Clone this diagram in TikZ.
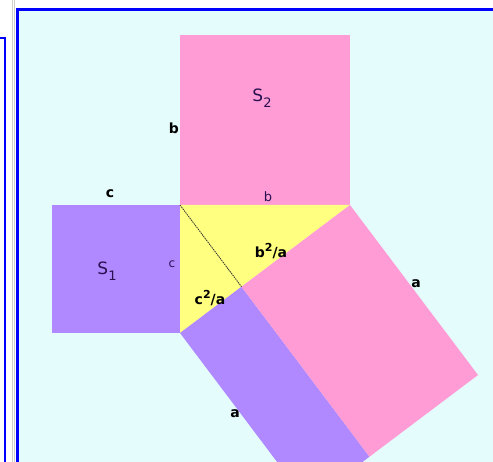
\documentclass[tikz,border=0pt]{standalone}
\usepackage{fontspec}
\setmainfont{DejaVu Sans}
\definecolor{bgcyan}{HTML}{E4FCFC}
\definecolor{sqpink}{HTML}{FF9CD6}
\definecolor{sqpurple}{HTML}{B088FF}
\definecolor{triyellow}{HTML}{FFFF80}
\definecolor{framegrey}{HTML}{D4D0C8}
\definecolor{txtpurple}{HTML}{2A1050}
\newcommand{\mysup}[1]{\raisebox{0.45em}{\fontsize{11}{11}\selectfont #1}}
\newcommand{\mysub}[1]{\raisebox{-0.35em}{\fontsize{13}{13}\selectfont #1}}
\tikzset{
  lbl/.style={font=\bfseries\fontsize{14}{14}\selectfont, text=black, inner sep=0pt},
  lblthin/.style={font=\fontsize{13}{13}\selectfont, text=txtpurple, inner sep=0pt},
  lblsmall/.style={font=\fontsize{12}{12}\selectfont, text=txtpurple, inner sep=0pt},
  areaname/.style={font=\fontsize{17}{17}\selectfont, text=txtpurple, inner sep=0pt}
}
\begin{document}
\begin{tikzpicture}[x=1pt,y=-1pt]
\useasboundingbox (0,0) rectangle (493,462);
% left window strip
\fill[white] (0,0) rectangle (493,462);
\draw[blue, line width=2pt] (0,38) -- (5,38) -- (5,462);
\draw[framegrey, line width=1pt] (12.5,0) -- (12.5,462);
\draw[framegrey, line width=1pt] (14.5,0) -- (14.5,462);
% panel
\fill[bgcyan] (17,8) rectangle (493,462);
\draw[blue, line width=3pt] (17.5,462) -- (17.5,9.5) -- (493,9.5);
% triangle vertices
\coordinate (A) at (180,205);
\coordinate (B) at (350,205);
\coordinate (C) at (180,333);
\coordinate (H) at (241.5,286.7);
\coordinate (Bp) at (478,375);
\coordinate (Cp) at (308,503);
\coordinate (Hp) at (369.5,456.7);
% squares on legs
\fill[sqpink] (180,35) rectangle (350,205);
\fill[sqpurple] (52,205) rectangle (180,333);
% triangle
\fill[triyellow] (A) -- (B) -- (C) -- cycle;
% square on hypotenuse, split by the altitude
\begin{scope}
\clip (17,8) rectangle (493,462);
\fill[sqpurple] (C) -- (H) -- (Hp) -- (Cp) -- cycle;
\fill[sqpink] (H) -- (B) -- (Bp) -- (Hp) -- cycle;
\end{scope}
% altitude
\draw[black!80, line width=0.8pt, dash pattern=on 1.5pt off 0.8pt] (A) -- (H);
% labels
\node[areaname] (s2) at (262,98) {S\mysub{2}};
\node[areaname] (s1) at (107,271) {S\mysub{1}};
\node[lbl] (bl) at (174,128) {b};
\node[lblthin] (bi) at (268,197) {b};
\node[lbl] (ct) at (110,194) {c};
\node[lblsmall] (ci) at (172,264) {c};
\node[lbl] (b2a) at (271,251) {b\mysup{2}/a};
\node[lbl] (c2a) at (210,298) {c\mysup{2}/a};
\node[lbl] (ar) at (416,284) {a};
\node[lbl] (ab) at (235,414) {a};
\end{tikzpicture}
\end{document}
